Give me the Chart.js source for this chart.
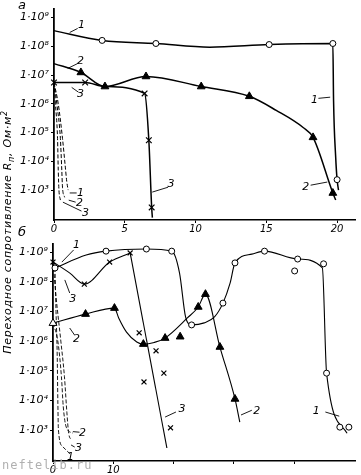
<!DOCTYPE html>
<html><head><meta charset="utf-8">
<script src="https://cdn.jsdelivr.net/npm/chart.js@4.4.1/dist/chart.umd.min.js"></script>
<style>
html,body{margin:0;padding:0;background:#fff;}
#wrap{position:relative;width:361px;height:475px;overflow:hidden;font-family:"DejaVu Sans",sans-serif;}
#ca{position:absolute;left:0;top:0;}
#cb{position:absolute;left:0;top:232px;}
.pl{position:absolute;font-style:italic;font-size:13px;color:#000;font-family:"DejaVu Sans",sans-serif;}
#ytitle{position:absolute;left:8px;top:232px;transform:translate(-50%,-50%) rotate(-90deg);white-space:nowrap;font-style:italic;font-size:11px;letter-spacing:0.7px;color:#000;}
#wm{position:absolute;left:2px;top:458px;font-size:12px;color:#b0b0b0;letter-spacing:1px;font-family:"DejaVu Sans Mono",monospace;}
</style></head>
<body>
<div id="wrap">
<canvas id="ca" width="361" height="232"></canvas>
<canvas id="cb" width="361" height="243"></canvas>
<div class="pl" style="left:18px;top:-3px;">а</div>
<div class="pl" style="left:18px;top:224px;">б</div>
<div id="ytitle">Переходное сопротивление R<sub style="font-size:8px">п</sub>, Ом·м<sup style="font-size:8px">2</sup></div>
<div id="wm">neftelib.ru</div>
</div>
<script>
// ---- axis ticks ----
const xTicksA = [0,5,10,15,20];
const xLabelsA = ['0','5','10','15','20'];
const xTicksB = [0,10,20,30,40];
const xLabelsB = ['0','10','','',''];
const yTickVals = [1e3,1e4,1e5,1e6,1e7,1e8,1e9];
const yTickLabels = ['1·10³','1·10⁴','1·10⁵','1·10⁶','1·10⁷','1·10⁸','1·10⁹'];

// ---- panel а : curves (line paths) ----
const a1LineX = [0, 3.4, 7.2, 11, 15.2, 19.7, 19.75, 19.9, 20.0, 20.1];
const a1LineY = [3.5e8, 1.6e8, 1.25e8, 9.3e7, 1.15e8, 1.25e8, 1.3e6, 1.4e4, 2.3e3, 1.0e3];
const a1PtX = [3.4, 7.2, 15.2, 19.7, 20.0];
const a1PtY = [1.6e8, 1.25e8, 1.15e8, 1.25e8, 2.3e3];

const a2LineX = [0, 1.9, 3.6, 6.5, 10.4, 13.8, 15.7, 17.6, 18.3, 19.7, 19.9];
const a2LineY = [2.5e7, 1.23e7, 3.98e6, 8.9e6, 3.98e6, 1.82e6, 5.9e5, 1.5e5, 6.8e4, 7.9e2, 4.5e2];
const a2PtX = [1.9, 3.6, 6.5, 10.4, 13.8, 18.3, 19.7];
const a2PtY = [1.23e7, 3.98e6, 8.9e6, 3.98e6, 1.82e6, 6.8e4, 7.9e2];

const a3LineX = [0, 2.2, 3.6, 6.4, 6.7, 6.9, 6.95];
const a3LineY = [5.5e6, 5.5e6, 3.98e6, 2.3e6, 5.4e4, 2.5e2, 1.1e2];
const a3PtX = [0, 2.2, 6.4, 6.7, 6.9];
const a3PtY = [5.5e6, 5.5e6, 2.3e6, 5.4e4, 2.5e2];

// dashed near-zero curves, panel а
const ad1X = [0, 0.3, 0.6, 0.8, 0.9, 1.0];
const ad1Y = [5.5e6, 1e6, 6.3e4, 6.3e3, 2e3, 1e3];
const ad2X = [0, 0.2, 0.45, 0.55, 0.6, 0.75];
const ad2Y = [5.5e6, 1e6, 6.3e4, 5e3, 1.26e3, 5.6e2];
const ad3X = [0, 0.1, 0.25, 0.3, 0.35, 0.45];
const ad3Y = [5.5e6, 1e6, 6.3e4, 5e3, 1e3, 4.5e2];

// ---- panel б ----
const b1LineX = [0.33, 5.5, 8.8, 15.5, 19.7, 21.0, 22.0, 23.0, 25.1, 26.8, 28.2, 29.4, 30.2, 33.0, 35.1, 40.6, 44.7, 45.4, 48.8];
const b1LineY = [2.9e8, 7.9e8, 1.07e9, 1.26e9, 1.07e9, 1.95e8, 6.5e6, 3.5e6, 4.1e6, 6.5e6, 1.9e7, 9.1e7, 4.3e8, 8.5e8, 1.07e9, 5.8e8, 2.9e8, 8.3e4, 7.9e2];
const b1PtX = [0.33, 8.8, 15.5, 19.7, 23.0, 28.2, 30.2, 35.1, 40.6, 40.1, 44.9, 45.4, 47.6, 49.1];
const b1PtY = [2.9e8, 1.07e9, 1.26e9, 1.07e9, 3.5e6, 1.9e7, 4.3e8, 1.07e9, 5.8e8, 2.3e8, 4e8, 8.3e4, 1.26e3, 1.26e3];

const b2LineX = [0, 5.4, 10.2, 10.9, 12.2, 13.9, 15.0, 16.8, 18.6, 22.3, 24.1, 25.3, 27.7, 30.2, 31.0];
const b2LineY = [4e6, 8.1e6, 1.29e7, 6e6, 2e6, 9.3e5, 7.9e5, 9e5, 1.26e6, 6e6, 1.41e7, 3.8e7, 6.3e5, 1.12e4, 1.86e3];
const b2PtX = [0, 5.4, 10.2, 15.0, 18.6, 21.1, 24.1, 25.3, 27.7, 30.2];
const b2PtY = [4e6, 8.1e6, 1.29e7, 7.9e5, 1.26e6, 1.4e6, 1.41e7, 3.8e7, 6.3e5, 1.12e4];

const b3LineX = [0, 2.8, 5.2, 9.4, 12.8];
const b3LineY = [4.6e8, 1.95e8, 8.3e7, 4.6e8, 9.3e8];
const b3DropX = [12.8, 18.9];
const b3DropY = [9.3e8, 2.5e2];
const b3PtX = [0, 5.2, 9.4, 12.8, 14.3, 17.1, 18.4, 15.1, 19.5];
const b3PtY = [4.6e8, 8.3e7, 4.6e8, 9.3e8, 1.9e6, 4.7e5, 8.3e4, 4.2e4, 1.2e3];

const bd1X = [0.33, 0.5, 0.7, 0.8, 0.9, 1.6, 2.8];
const bd1Y = [2.9e8, 1e7, 3.2e5, 1e4, 1e3, 2.8e2, 1.6e2];
const bd2X = [0, 0.8, 1.4, 1.7, 2.2, 3.3];
const bd2Y = [4e6, 1e6, 6.3e4, 6.3e3, 1.26e3, 7.9e2];
const bd3X = [0, 0.5, 1.3, 1.9, 2.3, 2.6, 3.1];
const bd3Y = [4.6e8, 3.2e7, 1e6, 6.3e4, 4e3, 7.9e2, 4.6e2];

// curve number labels: [text, x, log10(y), leader x1, log y1, leader x2, log y2]
const annA = [
  ['1',1.94,8.72,1.11,8.48,1.67,8.62],
  ['2',1.88,7.47,0.97,7.23,1.67,7.40],
  ['3',1.88,6.33,1.25,6.57,1.74,6.40],
  ['3',8.26,3.21,6.94,2.93,8.06,3.10],
  ['1',18.4,6.12,18.68,6.19,19.51,6.23],
  ['2',17.78,3.10,18.13,3.17,19.31,3.28],
  ['1',1.88,2.90,1.11,2.90,1.60,2.90],
  ['2',1.81,2.55,1.04,2.65,1.53,2.58],
  ['3',2.22,2.20,0.63,2.58,1.94,2.27]
];
const annB = [
  ['1',3.9,9.24,1.47,8.66,3.43,9.07],
  ['3',3.26,7.42,1.96,8.06,2.77,7.62],
  ['2',3.92,6.07,2.77,6.44,3.59,6.20],
  ['3',21.4,3.71,18.6,3.44,20.4,3.61],
  ['2',33.8,3.64,31.2,3.51,33.0,3.67],
  ['1',43.7,3.64,45.2,3.61,47.5,3.47],
  ['2',4.9,2.90,3.3,2.95,4.4,2.93],
  ['3',4.24,2.39,3.0,2.50,3.6,2.43],
  ['1',2.9,2.09]
];

const pts = (xs, ys) => xs.map((x,i)=>({x, y: ys[i]}));

const annoPlugin = {
  id:'anno',
  afterDatasetsDraw(chart, args, opts){
    const ctx=chart.ctx, xs=chart.scales.x, ys=chart.scales.y;
    ctx.save();
    ctx.fillStyle='#000'; ctx.strokeStyle='#000'; ctx.lineWidth=0.9;
    ctx.font='italic 11px "DejaVu Sans"';
    ctx.textAlign='center'; ctx.textBaseline='middle';
    (opts.items||[]).forEach(a=>{
      const [t,x,e,x1,e1,x2,e2]=a;
      ctx.fillText(t, xs.getPixelForValue(x), ys.getPixelForValue(Math.pow(10,e)));
      if(x1!==undefined){
        ctx.beginPath();
        ctx.moveTo(xs.getPixelForValue(x1), ys.getPixelForValue(Math.pow(10,e1)));
        ctx.lineTo(xs.getPixelForValue(x2), ys.getPixelForValue(Math.pow(10,e2)));
        ctx.stroke();
      }
    });
    ctx.restore();
  }
};

function lineDs(xs, ys, w, dash, mode){
  return {data: pts(xs,ys), showLine:true, pointRadius:0, borderColor:'#000', borderWidth:w,
    borderDash: dash||[], cubicInterpolationMode: mode||'monotone', tension: 0.3, clip:false, fill:false};
}
function circleDs(xs, ys){
  return {data: pts(xs,ys), showLine:false, pointStyle:'circle', pointRadius:3, pointBackgroundColor:'#fff',
    pointBorderColor:'#000', pointBorderWidth:1, clip:false};
}
function triDs(xs, ys, openFirst){
  return {data: pts(xs,ys), showLine:false, pointStyle:'triangle', pointRadius:4.5,
    pointBackgroundColor: xs.map((_,i)=> (openFirst && i===0) ? '#fff' : '#000'),
    pointBorderColor:'#000', pointBorderWidth:1, clip:false};
}
function crossDs(xs, ys, r){
  return {data: pts(xs,ys), showLine:false, pointStyle:'crossRot', pointRadius:r, pointBorderColor:'#000',
    pointBorderWidth:1.2, clip:false};
}

Chart.defaults.font.family = '"DejaVu Sans", sans-serif';
Chart.defaults.color = '#000';

function opts(xMax, yMin, yMax, yW, xH, padTop, xTicks, xLabels, ann){
  return {
    responsive:false, animation:false, devicePixelRatio:1,
    layout:{padding:{top:padTop, right:0, left:0, bottom:0}},
    plugins:{legend:{display:false}, tooltip:{enabled:false}, anno:{items:ann}},
    scales:{
      x:{type:'linear', min:0, max:xMax,
        afterBuildTicks: s => { s.ticks = xTicks.map(v=>({value:v})); },
        afterFit: s => { s.height = xH; },
        ticks:{callback:(v,i)=>xLabels[i], font:{size:10, style:'italic'}, padding:0, maxRotation:0, autoSkip:false},
        grid:{display:true, drawOnChartArea:false, drawTicks:true, tickLength:3, color:'#000', lineWidth:1},
        border:{display:true, color:'#000', width:1.5}
      },
      y:{type:'logarithmic', min:yMin, max:yMax,
        afterBuildTicks: s => { s.ticks = yTickVals.map(v=>({value:v})); },
        afterFit: s => { s.width = yW; },
        ticks:{callback:(v,i)=>yTickLabels[i], font:{size:11, style:'italic'}, padding:2, autoSkip:false},
        grid:{display:true, drawOnChartArea:false, drawTicks:true, tickLength:3, color:'#000', lineWidth:1},
        border:{display:true, color:'#000', width:1.8}
      }
    }
  };
}

new Chart(document.getElementById('ca'), {
  type:'scatter',
  data:{datasets:[
    circleDs(a1PtX, a1PtY),
    triDs(a2PtX, a2PtY, false),
    crossDs(a3PtX, a3PtY, 4),
    lineDs(a1LineX, a1LineY, 1.5),
    lineDs(a2LineX, a2LineY, 1.5),
    lineDs(a3LineX, a3LineY, 1.5),
    lineDs(ad1X, ad1Y, 1, [4,2]),
    lineDs(ad2X, ad2Y, 1, [4,2]),
    lineDs(ad3X, ad3Y, 1, [4,2])
  ]},
  options: opts(21.3, Math.pow(10,1.96), Math.pow(10,9.31), 54, 12, 8, xTicksA, xLabelsA, annA),
  plugins:[annoPlugin]
});

new Chart(document.getElementById('cb'), {
  type:'scatter',
  data:{datasets:[
    circleDs(b1PtX, b1PtY),
    triDs(b2PtX, b2PtY, true),
    crossDs(b3PtX, b3PtY, 3.5),
    lineDs(b1LineX, b1LineY, 1.1),
    lineDs(b2LineX, b2LineY, 1.1),
    lineDs(b3LineX, b3LineY, 1.1),
    lineDs(b3DropX, b3DropY, 1.1),
    lineDs(bd1X, bd1Y, 0.9, [4,2]),
    lineDs(bd2X, bd2Y, 0.9, [4,2]),
    lineDs(bd3X, bd3Y, 0.9, [4,2])
  ]},
  options: opts(50.2, Math.pow(10,1.96), Math.pow(10,9.27), 53, 14, 12, xTicksB, xLabelsB, annB),
  plugins:[annoPlugin]
});
</script>
</body></html>
